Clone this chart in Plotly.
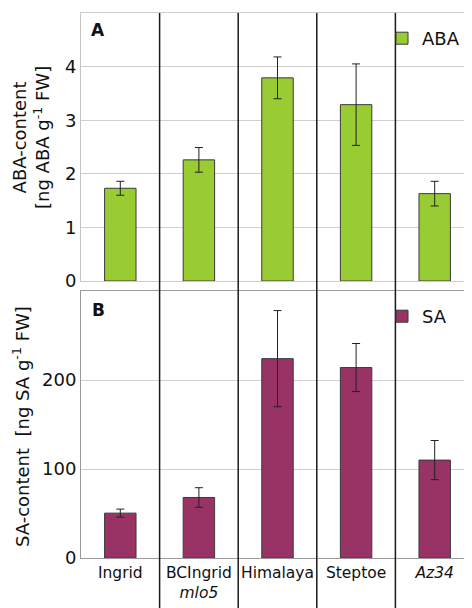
import plotly.graph_objects as go

categories = ["Ingrid", "BCIngrid mlo5", "Himalaya", "Steptoe", "Az34"]
tick_labels = ["Ingrid", "BCIngrid<br><i>mlo5</i>", "Himalaya", "Steptoe", "<i>Az34</i>"]

aba_values = [1.73, 2.26, 3.79, 3.29, 1.63]
aba_errors = [0.13, 0.23, 0.39, 0.76, 0.23]

sa_values = [50.4, 68.0, 224.0, 214.0, 110.0]
sa_errors = [4.5, 11.0, 54.0, 27.0, 22.0]

aba_ticks = [0, 1, 2, 3, 4]
sa_ticks = [0, 100, 200]

GREEN = "#99cc33"
PURPLE = "#993366"
FONT = "DejaVu Sans"

fig = go.Figure()
fig.add_trace(go.Bar(
    x=categories, y=aba_values, name="ABA",
    marker=dict(color=GREEN, line=dict(color="#3a3a3a", width=1)),
    error_y=dict(type="data", array=aba_errors, color="#222222", thickness=1, width=4),
    xaxis="x", yaxis="y", legend="legend",
))
fig.add_trace(go.Bar(
    x=categories, y=sa_values, name="SA",
    marker=dict(color=PURPLE, line=dict(color="#3a3a3a", width=1)),
    error_y=dict(type="data", array=sa_errors, color="#222222", thickness=1, width=4),
    xaxis="x2", yaxis="y2", legend="legend2",
))

W, H = 472, 608
ml, mr, mt, mb = 73, 6, 5, 58
ph = H - mt - mb
pw = W - ml - mr

def py(px):
    return (H - mb - px) / ph

def pxx(px):
    return (px - ml) / pw

top_dom = [py(273), 1.0]
bot_dom = [0.0, py(283)]

fig.update_layout(
    width=W, height=H,
    margin=dict(l=ml, r=mr, t=mt, b=mb),
    paper_bgcolor="white", plot_bgcolor="white",
    font=dict(family=FONT, size=18, color="#111111"),
    bargap=0.6,
    showlegend=True,
    xaxis=dict(domain=[0, 1], anchor="y", categoryorder="array", categoryarray=categories,
               showticklabels=False, showgrid=False, showline=True, mirror=True,
               linecolor="#cccccc", linewidth=1, zeroline=False),
    yaxis=dict(domain=top_dom, anchor="x", range=[0, 5], tickvals=aba_ticks,
               showgrid=True, gridcolor="#cfcfcf", gridwidth=1, showline=True, mirror=True,
               linecolor="#c4c4c4", linewidth=1, zeroline=False, ticks="",
               tickfont=dict(size=18, family=FONT)),
    xaxis2=dict(domain=[0, 1], anchor="y2", categoryorder="array", categoryarray=categories,
                tickvals=categories, ticktext=tick_labels, showgrid=False, showline=True,
                mirror=True, linecolor="#9a9a9a", linewidth=1, zeroline=False, ticks="",
                tickfont=dict(size=15.5, family=FONT)),
    yaxis2=dict(domain=bot_dom, anchor="x2", range=[0, 300], tickvals=sa_ticks,
                showgrid=True, gridcolor="#cfcfcf", gridwidth=1, showline=True, mirror=True,
                linecolor="#9a9a9a", linewidth=1, zeroline=False, ticks="",
                tickfont=dict(size=18, family=FONT)),
    legend=dict(x=pxx(374), y=py(12), xanchor="left", yanchor="top",
                bgcolor="rgba(0,0,0,0)", font=dict(size=18, family=FONT),
                itemwidth=30, tracegroupgap=0),
    legend2=dict(x=pxx(374), y=py(290), xanchor="left", yanchor="top",
                 bgcolor="rgba(0,0,0,0)", font=dict(size=18, family=FONT),
                 itemwidth=30, tracegroupgap=0),
)

# vertical separators between cultivars spanning both panels
for i in range(len(categories) - 1):
    fig.add_shape(type="line", xref="x2", yref="paper",
                  x0=i + 0.5, x1=i + 0.5, y0=py(603), y1=1.0,
                  line=dict(color="#1a1a1a", width=1.5))

annotations = [
    dict(text="<b>A</b>", x=pxx(90), y=py(22), xref="paper", yref="paper",
         showarrow=False, font=dict(size=17, family=FONT, color="#111111"),
         xanchor="center", yanchor="middle"),
    dict(text="<b>B</b>", x=pxx(90), y=py(302), xref="paper", yref="paper",
         showarrow=False, font=dict(size=17, family=FONT, color="#111111"),
         xanchor="center", yanchor="middle"),
    dict(text="ABA-content<br>[ng ABA g<sup>-1</sup> FW]", x=pxx(23), y=py(130),
         xref="paper", yref="paper", showarrow=False, textangle=-90,
         font=dict(size=18, family=FONT, color="#111111"),
         xanchor="center", yanchor="middle"),
    dict(text="SA-content  [ng SA g<sup>-1</sup> FW]", x=pxx(13), y=py(419),
         xref="paper", yref="paper", showarrow=False, textangle=-90,
         font=dict(size=18, family=FONT, color="#111111"),
         xanchor="center", yanchor="middle"),
]
fig.update_layout(annotations=annotations)

fig.write_html("out.html")
